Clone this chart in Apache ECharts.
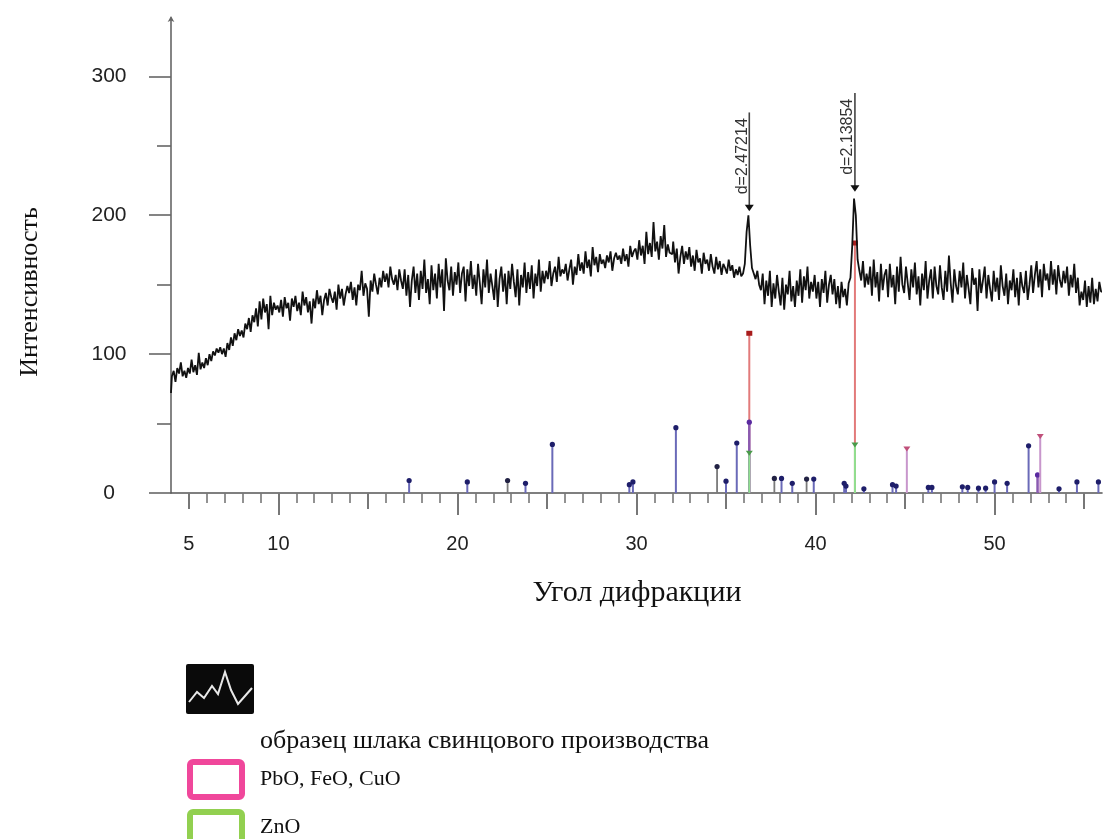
<!DOCTYPE html>
<html><head><meta charset="utf-8">
<script src="https://cdn.jsdelivr.net/npm/echarts@6/dist/echarts.min.js"></script>
<style>html,body{margin:0;padding:0;background:#fff}#c{width:1103px;height:839px}</style>
</head><body><div id="c"></div>
<script>
// ---- DATA ----
const angleStart = 4.0;   // 2θ of first sample
const angleStep = 0.1;    // sampling step
const intensity = [
 72,84,88,80,90,86,94,84,88,83,
 90,86,96,87,92,85,101,89,94,90,
 97,92,100,95,102,99,104,101,105,100,
 104,98,108,103,112,106,115,110,118,113,
 117,112,122,118,126,116,128,123,133,120,
 138,125,140,130,136,118,142,128,137,132,
 135,130,139,127,141,133,137,124,140,134,
 142,131,137,128,145,135,141,130,138,122,
 140,133,146,136,142,128,139,144,135,147,
 141,137,145,132,150,140,147,135,143,149,
 144,152,139,148,135,150,146,160,142,151,
 147,127,153,145,158,150,143,155,148,160,
 152,158,148,163,154,150,157,146,161,153,
 147,161,142,157,134,153,163,144,158,139,
 160,147,168,144,154,136,164,146,158,140,
 165,148,161,131,169,153,146,163,142,159,
 150,166,144,158,163,138,161,149,167,147,
 157,142,165,151,136,161,148,168,144,158,
 149,139,161,134,154,163,145,158,136,160,
 147,165,152,141,161,135,157,148,166,144,
 159,147,164,140,158,149,168,145,160,151,
 160,154,167,149,158,163,152,170,156,161,
 158,165,153,161,168,150,163,157,172,160,
 166,158,174,162,168,156,177,164,170,159,
 172,165,168,162,171,166,174,160,169,173,
 168,171,165,176,167,172,163,178,170,174,
 176,168,182,171,178,165,188,172,180,170,
 195,174,181,168,185,176,193,170,179,173,
 172,181,166,176,158,170,178,165,174,168,
 177,163,171,160,175,166,169,158,173,165,
 168,160,172,163,158,170,161,167,157,165,
 162,158,168,160,164,155,161,157,163,156,
 158,165,188,200,178,162,158,154,160,150,
 146,158,136,153,142,160,134,151,140,157,
 145,135,155,132,150,143,160,138,149,134,
 153,142,161,137,156,146,163,140,152,145,
 157,140,152,134,154,144,160,137,150,157,
 143,154,136,149,133,152,141,147,135,151,
 155,178,212,200,168,160,153,167,148,158,
 150,163,142,168,148,159,138,165,146,157,
 161,141,165,148,157,136,163,145,170,150,
 144,163,151,139,161,148,166,143,156,135,
 158,146,167,140,153,161,140,163,149,143,
 164,148,139,160,145,171,151,137,161,149,
 143,160,148,166,140,157,147,136,162,150,
 155,131,161,144,153,163,140,157,147,138,
 160,145,155,139,164,149,142,158,136,153,
 146,161,141,155,135,159,149,144,160,139,
 150,164,144,157,167,148,161,141,165,153,
 158,146,167,150,161,143,164,153,148,160,
 151,163,142,157,148,165,144,155,135,145,
 139,153,134,149,137,155,136,147,138,152,
 145
];

const redAngles = [36.3, 42.2];
const redValues = [115, 180];
const purpleAngles = [36.3, 52.4];
const purpleValues = [51, 13];
const greenAngles = [36.3, 42.2];
const greenValues = [29, 35];
const pinkAngles = [45.1, 52.55];
const pinkValues = [32, 41];
const grayAngles = [22.8, 34.5, 37.7, 39.5];
const grayValues = [9, 19, 10.5, 10];
const blueAngles = [17.3, 20.55, 23.8, 25.3, 29.6, 29.8, 32.2, 35.0, 35.6, 38.1, 38.7, 39.9, 41.6, 41.7, 42.7, 44.3, 44.5, 46.3, 46.5, 48.2, 48.5, 49.1, 49.5, 50.0, 50.7, 51.9, 53.6, 54.6, 55.8];
const blueValues = [9, 8, 7, 35, 6, 8, 47, 8.5, 36, 10.5, 7, 10, 7, 5, 3, 6, 5, 4, 4, 4.5, 4, 3.5, 3.5, 8, 7, 34, 3, 8, 8];

const peakAngles = [36.3, 42.2];
const peakMarkValues = [205, 219];
const peakLineTops = [274, 288];
const peakLabels = ['d=2.47214', 'd=2.13854'];

const xTickMinor = [];
for (let t = 5; t <= 55; t++) xTickMinor.push(t);
const xTickMid = [5, 15, 25, 35, 45, 55];
const xTickMajor = [10, 20, 30, 40, 50];
const xLabelValues = [5, 10, 20, 30, 40, 50];
const yLabelValues = [0, 100, 200, 300];
const yTickMinor = [50, 150, 250];

// ---- BUILD ----
const mainData = intensity.map((v, i) => [+(angleStart + i * angleStep).toFixed(2), v]);
const zip = (a, b) => a.map((x, i) => [x, b[i]]);

function stickSeries(name, angles, values, lineColor, markColor, lw, markShape) {
  return {
    type: 'custom', name: name, xAxisIndex: 0, yAxisIndex: 0, clip: false,
    data: zip(angles, values),
    renderItem: function (params, api) {
      const x = api.value(0), v = api.value(1);
      const p0 = api.coord([x, 0]), p1 = api.coord([x, v]);
      let mark;
      if (markShape === 'tri') {
        mark = { type: 'polygon', shape: { points: [[p1[0]-3.5, p1[1]-2], [p1[0]+3.5, p1[1]-2], [p1[0], p1[1]+3]] }, style: { fill: markColor } };
      } else if (markShape === 'dot') {
        mark = { type: 'circle', shape: { cx: p1[0], cy: p1[1], r: 2.6 }, style: { fill: markColor } };
      } else {
        mark = { type: 'rect', shape: { x: p1[0]-3, y: p1[1]-2.5, width: 6, height: 5 }, style: { fill: markColor } };
      }
      return { type: 'group', children: [
        { type: 'line', shape: { x1: p0[0], y1: p0[1], x2: p1[0], y2: p1[1] }, style: { stroke: lineColor, lineWidth: lw } },
        mark
      ]};
    }
  };
}

const peakData = peakAngles.map((a, i) => [a, peakMarkValues[i], peakLineTops[i], peakLabels[i]]);

const chart = echarts.init(document.getElementById('c'), null, { renderer: 'canvas' });
const axisBase = { type: 'value', min: 4, max: 56, position: 'bottom', splitLine: { show: false } };
const yBase = { type: 'value', min: 0, max: 342, position: 'left', splitLine: { show: false } };

chart.setOption({
  backgroundColor: '#ffffff',
  animation: false,
  grid: { left: 171, right: 1, top: 18, bottom: 346 },
  xAxis: [
    Object.assign({}, axisBase, {
      axisLine: { show: true, onZero: false, lineStyle: { color: '#555', width: 1.6 } },
      axisTick: { show: true, customValues: xTickMinor, length: 10, lineStyle: { color: '#777', width: 1.6 } },
      axisLabel: { show: true, customValues: xLabelValues, margin: 41, fontSize: 20, color: '#222', fontFamily: 'Liberation Sans, Arial, sans-serif' }
    }),
    Object.assign({}, axisBase, {
      axisLine: { show: false, onZero: false },
      axisTick: { show: true, customValues: xTickMid, length: 16, lineStyle: { color: '#777', width: 2 } },
      axisLabel: { show: false }
    }),
    Object.assign({}, axisBase, {
      axisLine: { show: false, onZero: false },
      axisTick: { show: true, customValues: xTickMajor, length: 22, lineStyle: { color: '#777', width: 2 } },
      axisLabel: { show: false }
    })
  ],
  yAxis: [
    Object.assign({}, yBase, {
      axisLine: { show: true, onZero: false, lineStyle: { color: '#666', width: 1.6 }, symbol: ['none', 'arrow'], symbolSize: [5, 6], symbolOffset: [0, 2] },
      axisTick: { show: true, customValues: yLabelValues, length: 22, lineStyle: { color: '#666', width: 1.6 } },
      axisLabel: { show: true, customValues: yLabelValues, margin: 62, align: 'center', verticalAlign: 'middle', padding: [9, 0, 0, 0], fontSize: 21, color: '#222', fontFamily: 'Liberation Sans, Arial, sans-serif' }
    }),
    Object.assign({}, yBase, {
      axisLine: { show: false, onZero: false },
      axisTick: { show: true, customValues: yTickMinor, length: 14, lineStyle: { color: '#666', width: 1.6 } },
      axisLabel: { show: false }
    })
  ],
  series: [
    stickSeries('PbO, FeO, CuO', redAngles, redValues, '#e27a7a', '#a81c1c', 2, 'rect'),
    stickSeries('p', purpleAngles, purpleValues, '#8a5ab0', '#5a2aa0', 2.5, 'dot'),
    stickSeries('ZnO', greenAngles, greenValues, '#8fe08f', '#4a9a4a', 2, 'tri'),
    stickSeries('k', pinkAngles, pinkValues, '#c896cc', '#c0507a', 2, 'tri'),
    stickSeries('g', grayAngles, grayValues, '#7a7a7a', '#222244', 1.8, 'dot'),
    stickSeries('b', blueAngles, blueValues, '#6a6ab8', '#1e1e6a', 2, 'dot'),
    {
      type: 'line', name: 'образец шлака свинцового производства', data: mainData, showSymbol: false,
      step: 'middle', lineStyle: { color: '#111', width: 1.8 }, z: 3
    },
    {
      type: 'custom', name: 'peaks', data: peakData, clip: false, z: 4,
      renderItem: function (params, api) {
        const x = api.value(0);
        const pm = api.coord([x, api.value(1)]);
        const pt = api.coord([x, api.value(2)]);
        return { type: 'group', children: [
          { type: 'line', shape: { x1: pm[0], y1: pm[1], x2: pt[0], y2: pt[1] }, style: { stroke: '#444', lineWidth: 1.6 } },
          { type: 'polygon', shape: { points: [[pm[0]-4.5, pm[1]-3.5], [pm[0]+4.5, pm[1]-3.5], [pm[0], pm[1]+3]] }, style: { fill: '#111' } },
          { type: 'text', x: pm[0] - 7, y: pm[1] - 14, rotation: Math.PI / 2,
            style: { text: peakLabels[params.dataIndex], font: '16px "Liberation Sans", Arial, sans-serif', fill: '#333', align: 'left', verticalAlign: 'middle' } }
        ]};
      }
    }
  ],
  graphic: [
    { type: 'text', x: 30, y: 292, rotation: Math.PI / 2,
      style: { text: 'Интенсивность', font: '26px "Liberation Serif", "Times New Roman", serif', fill: '#111', align: 'center', verticalAlign: 'middle' } },
    { type: 'text', x: 637, y: 593,
      style: { text: 'Угол дифракции', font: '30px "Liberation Serif", "Times New Roman", serif', fill: '#111', align: 'center', verticalAlign: 'middle' } },
    { type: 'rect', shape: { x: 186, y: 664, width: 68, height: 50, r: 2 }, style: { fill: '#0a0a0a' } },
    { type: 'polyline', shape: { points: [[189, 702], [197, 692], [204, 698], [212, 686], [218, 694], [225, 672], [231, 690], [238, 704], [245, 696], [252, 688]] },
      style: { stroke: '#e8e8e8', lineWidth: 2, fill: null } },
    { type: 'text', x: 260, y: 741,
      style: { text: 'образец шлака свинцового производства', font: '26px "Liberation Serif", "Times New Roman", serif', fill: '#111', align: 'left', verticalAlign: 'middle' } },
    { type: 'rect', shape: { x: 190, y: 762, width: 52, height: 35, r: 3 }, style: { fill: '#fff', stroke: '#f0479b', lineWidth: 6 } },
    { type: 'text', x: 260, y: 779,
      style: { text: 'PbO, FeO, CuO', font: '22px "Liberation Serif", "Times New Roman", serif', fill: '#111', align: 'left', verticalAlign: 'middle' } },
    { type: 'rect', shape: { x: 190, y: 812, width: 52, height: 35, r: 3 }, style: { fill: '#fff', stroke: '#92d050', lineWidth: 6 } },
    { type: 'text', x: 260, y: 827,
      style: { text: 'ZnO', font: '22px "Liberation Serif", "Times New Roman", serif', fill: '#111', align: 'left', verticalAlign: 'middle' } }
  ]
});
</script>
</body></html>
